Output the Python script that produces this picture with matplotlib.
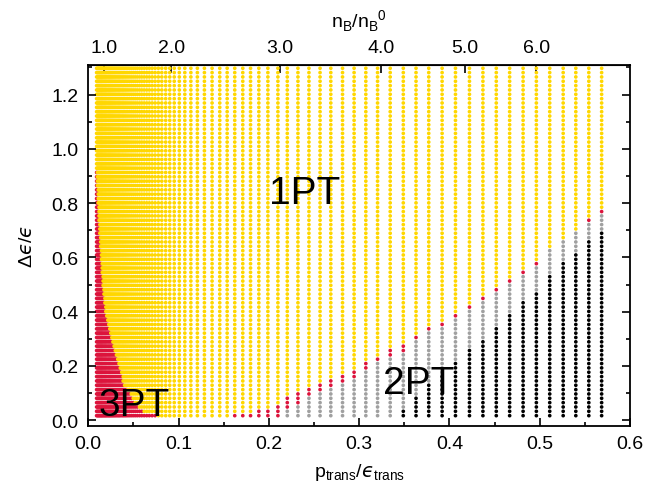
import numpy as np
import matplotlib
matplotlib.use("Agg")
import matplotlib.pyplot as plt
from matplotlib.ticker import MultipleLocator

plt.rcParams['font.family'] = ['Liberation Sans', 'DejaVu Sans']
plt.rcParams['mathtext.fontset'] = 'custom'
plt.rcParams['mathtext.rm'] = 'Liberation Sans'
plt.rcParams['mathtext.it'] = 'DejaVu Sans:italic'
plt.rcParams['mathtext.bf'] = 'Liberation Sans:bold'

# Delta eps / eps values of the scan (rows of the grid)
de_rows = np.linspace(0.017, 1.297, 81)

# p_trans / eps_trans of each scanned column
p_cols = [
    0.0092, 0.0101, 0.0110, 0.0119, 0.0128, 0.0137, 0.0146, 0.0154, 0.0164, 0.0174,
    0.0184, 0.0194, 0.0204, 0.0216, 0.0227, 0.0238, 0.0249, 0.0261, 0.0273, 0.0286,
    0.0299, 0.0312, 0.0326, 0.0340, 0.0354, 0.0370, 0.0386, 0.0402, 0.0419, 0.0437,
    0.0456, 0.0476, 0.0497, 0.0519, 0.0542, 0.0567, 0.0592, 0.0619, 0.0647, 0.0676,
    0.0707, 0.0740, 0.0776, 0.0814, 0.0857, 0.0902, 0.0952, 0.1008, 0.1069, 0.1136,
    0.1208, 0.1286, 0.1371, 0.1456, 0.1538, 0.1622, 0.1711, 0.1797, 0.1889, 0.1989,
    0.2100, 0.2204, 0.2322, 0.2444, 0.2567, 0.2686, 0.2816, 0.2944, 0.3074, 0.3204,
    0.3344, 0.3489, 0.3630, 0.3771, 0.3919, 0.4067, 0.4222, 0.4371, 0.4519, 0.4667,
    0.4816, 0.4963, 0.5111, 0.5260, 0.5400, 0.5544, 0.5686,
]

# highest row index (per column) that is 2PT-black, 2PT-grey and 3PT-red; -1 = none
black_top = [-1] * 71 + [1, 4, 7, 9, 12, 15, 17, 20, 23, 26, 28, 32, 35, 37, 40, 42]
grey_top = [-1] * 61 + [1, 2, 4, 5, 6, 7, 8, 10, 12, 13,
                        14, 17, 19, 20, 22, 24, 26, 28, 30, 32, 34, 38, 40, 42, 44, 46]
red_top = [
    56, 52, 48, 44, 41, 38, 35, 32, 29, 27,
    25, 23, 22, 21, 20, 19, 18, 17, 16, 15,
    14, 13, 12, 11, 10, 9, 7, 6, 6, 5,
    5, 4, 3, 2, 2, 1, 1, 0, 0, 0,
    0, 0, -1, -1, -1, -1, -1, -1, -1, -1,
    -1, -1, -1, -1, -1, 0, 0, 0, 1, 1,
    2, 4, 5, 6, 7, 8, 9, 10, 12, 13,
    15, 16, 18, 20, 21, 23, 25, 27, 29, 31,
    33, 35, 38, 40, 42, 45, 47,
]

# upper axis: baryon density at the transition
nb_ticks = [0.0178, 0.0919, 0.2122, 0.3240, 0.4174, 0.4963]
nb_labels = ['1.0', '2.0', '3.0', '4.0', '5.0', '6.0']

c_black, c_grey, c_red, c_yellow = 'black', '#a0a0a0', '#dc143c', '#ffd700'

xs, ys, cs = [], [], []
for j, p in enumerate(p_cols):
    for k, de in enumerate(de_rows):
        if k <= black_top[j]:
            c = c_black
        elif k <= grey_top[j]:
            c = c_grey
        elif k <= red_top[j]:
            c = c_red
        else:
            c = c_yellow
        xs.append(p)
        ys.append(de)
        cs.append(c)

fig = plt.figure(figsize=(6.67, 4.89), dpi=100)
ax = fig.add_axes([0.1324, 0.1274, 0.8121, 0.7382])
ax.scatter(xs, ys, c=cs, s=7, marker='o', linewidths=0)

ax.set_xlim(0, 0.6)
ax.set_ylim(-0.02, 1.31)
ax.xaxis.set_major_locator(MultipleLocator(0.1))
ax.xaxis.set_minor_locator(MultipleLocator(0.05))
ax.yaxis.set_major_locator(MultipleLocator(0.2))
ax.yaxis.set_minor_locator(MultipleLocator(0.1))
ax.xaxis.set_major_formatter(lambda v, pos: f'{v:.1f}')
ax.yaxis.set_major_formatter(lambda v, pos: f'{v:.1f}')
ax.tick_params(which='both', direction='in', top=False, right=True, width=1.2, labelsize=14)
ax.tick_params(which='major', length=5.8, pad=7)
ax.tick_params(which='minor', length=3.2)
for s in ax.spines.values():
    s.set_linewidth(1.3)

# lunate epsilon (U+03F5) taken from the math italic font
ax.set_xlabel('p$_\\mathrm{trans}$/$\u03f5_\\mathrm{trans}$', fontsize=14, labelpad=6)
ax.set_ylabel('$\\Delta\u03f5/\u03f5$', fontsize=14, labelpad=11)

top = ax.secondary_xaxis('top')
top.set_xticks(nb_ticks, nb_labels)
top.tick_params(direction='in', length=5.8, width=1.2, labelsize=14, pad=6)
top.set_xlabel(r'n$_\mathrm{B}$/n$_\mathrm{B}$$^0$', fontsize=14, labelpad=9)

ax.text(0.2, 0.80, '1PT', fontsize=28)
ax.text(0.326, 0.10, '2PT', fontsize=28)
ax.text(0.011, 0.02, '3PT', fontsize=28)

fig.savefig('out.png', dpi=100)
